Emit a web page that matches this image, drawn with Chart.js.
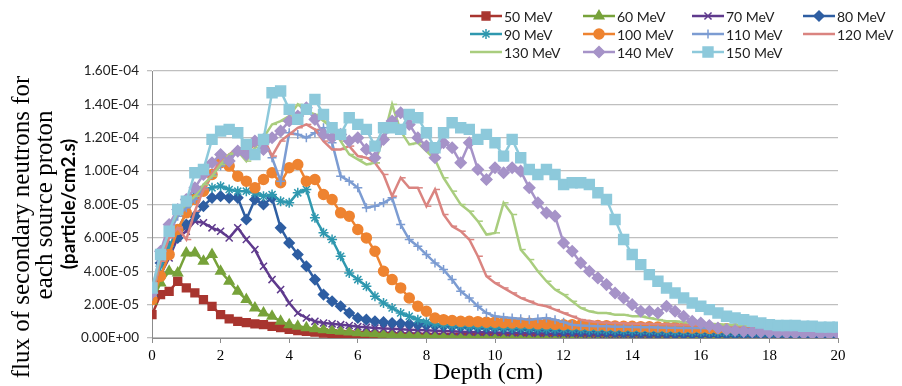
<!DOCTYPE html>
<html>
<head>
<meta charset="utf-8">
<script src="https://cdn.jsdelivr.net/npm/chart.js@4.4.0/dist/chart.umd.min.js"></script>
<style>
  html, body { margin: 0; padding: 0; background: #fff; }
  #wrap { width: 902px; height: 386px; }
</style>
</head>
<body>
<div id="wrap"><canvas id="fluxChart" width="902" height="386"></canvas></div>
<script>
// flux values are in units of 1E-05 particle/cm2.s
const UNIT = 1e-5;

const depth = [
  0, 0.25, 0.5, 0.75, 1, 1.25, 1.5, 1.75, 2, 2.25,
  2.5, 2.75, 3, 3.25, 3.5, 3.75, 4, 4.25, 4.5, 4.75,
  5, 5.25, 5.5, 5.75, 6, 6.25, 6.5, 6.75, 7, 7.25,
  7.5, 7.75, 8, 8.25, 8.5, 8.75, 9, 9.25, 9.5, 9.75,
  10, 10.25, 10.5, 10.75, 11, 11.25, 11.5, 11.75, 12, 12.25,
  12.5, 12.75, 13, 13.25, 13.5, 13.75, 14, 14.25, 14.5, 14.75,
  15, 15.25, 15.5, 15.75, 16, 16.25, 16.5, 16.75, 17, 17.25,
  17.5, 17.75, 18, 18.25, 18.5, 18.75, 19, 19.25, 19.5, 19.75,
  20
];

const seriesNames = ["50 MeV", "60 MeV", "70 MeV", "80 MeV", "90 MeV", "100 MeV",
                     "110 MeV", "120 MeV", "130 MeV", "140 MeV", "150 MeV"];

const mev50 = [
  1.4, 2.6, 2.8, 3.4, 3.0, 2.7, 2.3, 1.9, 1.4, 1.15,
  1.0, 0.92, 0.85, 0.8, 0.7, 0.62, 0.52, 0.45, 0.4, 0.35,
  0.3, 0.26, 0.22, 0.19, 0.16, 0.14, 0.12, 0.1, 0.08, 0.07,
  0.06, 0.05, 0.04, 0.04, 0.03, 0.03, 0.03, 0.02, 0.02, 0.02,
  0.02, 0.02, 0.01, 0.01, 0.01, 0.01, 0.01, 0.01, 0.01, 0.01,
  0.01, 0.01, 0.01, 0.01, 0.01, 0.01, 0.01, 0.01, 0.01, 0.01,
  0.01, 0.01, 0.01, 0.01, 0.01, 0.01, 0.01, 0.01, 0.01, 0.01,
  0.01, 0.01, 0.01, 0.01, 0.01, 0.01, 0.01, 0.01, 0.01, 0.01,
  0.01
];
const mev60 = [
  2.2, 3.3, 4.0, 3.9, 5.1, 5.1, 4.6, 5.0, 4.0, 3.4,
  2.8, 2.3, 1.8, 1.5, 1.3, 1.0, 0.8, 0.7, 0.62, 0.55,
  0.5, 0.45, 0.4, 0.36, 0.32, 0.29, 0.26, 0.23, 0.2, 0.18,
  0.16, 0.14, 0.12, 0.11, 0.1, 0.09, 0.08, 0.07, 0.06, 0.06,
  0.05, 0.05, 0.04, 0.04, 0.04, 0.03, 0.03, 0.03, 0.03, 0.02,
  0.02, 0.02, 0.02, 0.02, 0.02, 0.02, 0.02, 0.02, 0.02, 0.02,
  0.02, 0.02, 0.02, 0.02, 0.02, 0.01, 0.01, 0.01, 0.01, 0.01,
  0.01, 0.01, 0.01, 0.01, 0.01, 0.01, 0.01, 0.01, 0.01, 0.01,
  0.01
];
const mev70 = [
  2.4, 3.8, 4.8, 6.0, 6.4, 7.0, 6.9, 6.6, 6.4, 6.0,
  6.6, 5.9, 5.3, 4.3, 3.5, 2.9, 2.1, 1.5, 1.2, 1.0,
  0.9, 0.85, 0.8, 0.75, 0.68, 0.64, 0.6, 0.57, 0.55, 0.52,
  0.5, 0.48, 0.46, 0.44, 0.42, 0.4, 0.38, 0.36, 0.35, 0.34,
  0.33, 0.32, 0.31, 0.3, 0.29, 0.28, 0.27, 0.26, 0.25, 0.24,
  0.23, 0.22, 0.21, 0.2, 0.2, 0.19, 0.18, 0.18, 0.17, 0.16,
  0.16, 0.15, 0.15, 0.14, 0.14, 0.13, 0.13, 0.12, 0.12, 0.11,
  0.11, 0.1, 0.1, 0.1, 0.09, 0.09, 0.09, 0.08, 0.08, 0.08,
  0.08
];
const mev80 = [
  2.5, 4.5, 5.5, 6.0, 6.8, 7.3, 7.9, 8.4, 8.5, 8.4,
  8.4, 7.1, 8.3, 8.0, 8.4, 6.6, 5.7, 5.0, 4.3, 3.5,
  2.6, 2.2, 1.9, 1.5, 1.2, 1.1, 1.0, 0.95, 0.9, 0.87,
  0.84, 0.8, 0.78, 0.75, 0.72, 0.7, 0.68, 0.66, 0.64, 0.62,
  0.6, 0.58, 0.56, 0.54, 0.52, 0.5, 0.48, 0.46, 0.44, 0.42,
  0.4, 0.39, 0.38, 0.36, 0.35, 0.34, 0.33, 0.32, 0.3, 0.29,
  0.28, 0.27, 0.26, 0.25, 0.24, 0.23, 0.22, 0.21, 0.2, 0.2,
  0.19, 0.18, 0.18, 0.17, 0.16, 0.16, 0.15, 0.15, 0.14, 0.14,
  0.13
];
const mev90 = [
  2.7, 4.3, 5.5, 6.5, 7.5, 8.6, 8.9, 9.0, 9.1, 8.9,
  8.8, 8.8, 8.7, 8.5, 8.6, 8.2, 8.1, 8.7, 8.9, 7.2,
  6.3, 5.9, 4.9, 3.9, 3.5, 3.1, 2.5, 2.1, 1.8, 1.5,
  1.3, 1.1, 0.95, 0.85, 0.8, 0.76, 0.73, 0.7, 0.68, 0.66,
  0.64, 0.62, 0.6, 0.6, 0.58, 0.57, 0.56, 0.55, 0.54, 0.53,
  0.52, 0.5, 0.49, 0.48, 0.47, 0.46, 0.45, 0.44, 0.43, 0.42,
  0.41, 0.4, 0.39, 0.38, 0.37, 0.36, 0.35, 0.34, 0.33, 0.32,
  0.32, 0.31, 0.3, 0.3, 0.29, 0.28, 0.28, 0.27, 0.27, 0.26,
  0.26
];
const mev100 = [
  2.3, 3.7, 5.0, 6.5, 7.5, 8.3, 8.8, 9.8, 10.5, 10.3,
  9.7, 9.4, 9.0, 9.5, 9.9, 9.3, 10.2, 10.4, 9.4, 9.5,
  8.6, 8.3, 7.5, 7.3, 6.5, 6.0, 5.2, 4.0, 3.5, 3.0,
  2.4, 1.9, 1.6, 1.2, 1.1, 1.05, 1.0, 1.0, 0.98, 0.95,
  0.95, 0.92, 0.9, 0.9, 0.88, 0.85, 0.85, 0.82, 0.8, 0.8,
  0.78, 0.76, 0.75, 0.74, 0.72, 0.7, 0.7, 0.68, 0.67, 0.66,
  0.65, 0.64, 0.62, 0.6, 0.6, 0.58, 0.57, 0.56, 0.55, 0.54,
  0.52, 0.5, 0.5, 0.48, 0.48, 0.46, 0.45, 0.44, 0.44, 0.42,
  0.42
];
const mev110 = [
  2.5, 4.6, 6.3, 7.3, 7.8, 8.3, 9.0, 9.8, 10.3, 10.8,
  11.2, 11.5, 11.8, 12.0, 10.8, 9.4, 12.3, 12.2, 12.0, 12.3,
  12.6, 11.7, 9.7, 9.4, 9.0, 7.8, 7.9, 8.1, 8.4, 6.8,
  5.9, 5.5, 5.0, 4.5, 4.1, 3.5, 2.8, 2.4, 1.9, 1.5,
  1.3, 1.25, 1.2, 1.15, 1.1, 1.15, 1.2, 1.1, 0.95, 0.8,
  0.75, 0.72, 0.7, 0.7, 0.68, 0.68, 0.66, 0.65, 0.64, 0.63,
  0.62, 0.62, 0.6, 0.6, 0.6, 0.58, 0.58, 0.57, 0.56, 0.55,
  0.55, 0.54, 0.53, 0.52, 0.52, 0.51, 0.5, 0.5, 0.5, 0.49,
  0.48
];
const mev120 = [
  2.5, 4.6, 6.0, 6.6, 5.9, 7.6, 8.9, 9.9, 10.6, 11.0,
  11.4, 11.1, 11.6, 12.0, 10.9, 11.8, 12.2, 12.6, 12.8, 12.5,
  11.8, 11.3, 11.3, 11.5, 10.9, 10.8, 10.5, 9.8, 8.5, 9.6,
  9.0, 9.0, 7.9, 8.9, 7.4, 6.7, 6.4, 5.9, 4.9, 3.7,
  3.3, 3.0, 2.7, 2.4, 2.2, 2.0, 1.9, 1.7, 1.5, 1.3,
  1.1, 1.0, 0.95, 0.92, 0.9, 0.88, 0.86, 0.85, 0.84, 0.83,
  0.82, 0.8, 0.8, 0.78, 0.78, 0.76, 0.75, 0.74, 0.72, 0.7,
  0.7, 0.68, 0.67, 0.66, 0.65, 0.64, 0.63, 0.62, 0.61, 0.6,
  0.6
];
const mev130 = [
  2.6, 5.0, 6.5, 7.5, 8.0, 8.5, 9.2, 9.7, 10.4, 11.0,
  11.2, 10.6, 11.4, 12.0, 12.8, 13.0, 13.3, 14.0, 13.6, 13.4,
  13.0, 12.6, 11.8, 11.0, 10.7, 10.4, 10.5, 12.0, 14.0, 12.4,
  11.6, 11.7, 11.2, 10.7, 9.6, 8.8, 8.0, 7.6, 7.0, 6.2,
  6.3, 8.1, 7.4, 5.3, 4.7, 4.0, 3.4, 2.9, 2.6, 2.2,
  1.8, 1.6, 1.5, 1.5, 1.4, 1.4, 1.3, 1.3, 1.2, 1.1,
  1.0, 1.0, 0.95, 0.9, 0.88, 0.85, 0.82, 0.8, 0.78, 0.76,
  0.74, 0.72, 0.7, 0.68, 0.66, 0.64, 0.62, 0.6, 0.58, 0.56,
  0.55
];
const mev140 = [
  2.7, 5.2, 6.8, 7.7, 8.3, 9.0, 9.8, 10.5, 11.0, 10.6,
  11.2, 11.0, 11.8, 11.3, 12.0, 12.4, 13.0, 13.3, 13.8, 13.1,
  12.2, 12.0, 12.2, 11.8, 12.0, 11.3, 10.8, 11.9, 13.0, 13.5,
  12.8, 12.0, 11.5, 10.8, 11.7, 11.4, 10.5, 11.7, 10.1, 9.5,
  10.2, 9.9, 10.2, 10.0, 9.0, 8.1, 7.5, 7.3, 5.7, 5.2,
  4.5, 4.0, 3.6, 3.2, 2.7, 2.4, 2.0, 1.6, 1.6, 1.5,
  1.9, 1.6, 1.3, 1.0, 0.9, 0.75, 0.6, 0.5, 0.45, 0.4,
  0.38, 0.36, 0.34, 0.32, 0.3, 0.28, 0.27, 0.26, 0.25, 0.24,
  0.24
];
const mev150 = [
  3.0, 5.0, 6.4, 7.7, 8.2, 9.9, 10.1, 11.9, 12.4, 12.5,
  12.3, 11.6, 11.0, 11.9, 14.7, 14.8, 13.7, 13.1, 13.7, 14.3,
  13.4, 12.6, 12.2, 13.2, 12.8, 12.5, 11.5, 12.6, 12.6, 12.5,
  13.4, 13.2, 12.3, 11.4, 12.3, 12.9, 12.6, 12.5, 11.9, 12.2,
  11.7, 10.9, 11.9, 10.8, 10.1, 9.8, 10.1, 9.8, 9.2, 9.3,
  9.3, 9.2, 8.7, 8.3, 7.1, 5.9, 5.0, 4.4, 3.8, 3.4,
  3.0, 2.7, 2.4, 2.1, 1.9, 1.7, 1.5, 1.3, 1.2, 1.1,
  1.0, 0.9, 0.8, 0.75, 0.75, 0.75, 0.7, 0.7, 0.65, 0.65,
  0.65
];

const seriesValues = [mev50, mev60, mev70, mev80, mev90, mev100,
                      mev110, mev120, mev130, mev140, mev150];

const yTicks = [0, 2, 4, 6, 8, 10, 12, 14, 16];

// look of each series: colour, marker, marker radius
const looks = [
  { color: "#A8352F", marker: "rect", r: 5.5 },
  { color: "#77A23A", marker: "triangle", r: 5.5 },
  { color: "#5F3A8D", marker: "crossRot", r: 5 },
  { color: "#2E5EA2", marker: "rectRot", r: 5 },
  { color: "#2F98AF", marker: "star", r: 5 },
  { color: "#EE8330", marker: "circle", r: 5 },
  { color: "#7C9CD2", marker: "cross", r: 4.5 },
  { color: "#DA8480", marker: "dash", r: 5 },
  { color: "#A9CD7E", marker: "dash", r: 5 },
  { color: "#A693C8", marker: "rectRot", r: 5.5 },
  { color: "#8DC9DB", marker: "rect", r: 7 }
];

function sci(v) {
  if (v === 0) return "0.00E+00";
  const parts = (v * UNIT).toExponential(2).split("e");
  const n = parseInt(parts[1], 10);
  return parts[0] + "E" + (n < 0 ? "-" : "+") + String(Math.abs(n)).padStart(2, "0");
}

const datasets = seriesNames.map((name, i) => ({
  label: name,
  data: depth.map((d, k) => ({ x: d, y: seriesValues[i][k] })),
  borderColor: looks[i].color,
  backgroundColor: looks[i].color,
  pointBackgroundColor: looks[i].color,
  pointBorderColor: looks[i].color,
  pointStyle: looks[i].marker,
  pointRadius: looks[i].r,
  pointBorderWidth: 1.5,
  borderWidth: 2.5,
  tension: 0,
  order: seriesNames.length - i
}));

// y title, x title and the legend are drawn by hand
const extras = {
  id: "extras",
  afterDraw(chart) {
    const ctx = chart.ctx;
    ctx.save();
    ctx.fillStyle = "#000";
    ctx.textAlign = "center";
    ctx.textBaseline = "middle";

    ctx.save();
    ctx.translate(22, 227);
    ctx.rotate(-Math.PI / 2);
    ctx.font = "25px 'Liberation Serif', 'DejaVu Serif', serif";
    ctx.fillText("flux of secondary neutrons for", 0, 0);
    ctx.restore();

    ctx.save();
    ctx.translate(45, 205);
    ctx.rotate(-Math.PI / 2);
    ctx.font = "25px 'Liberation Serif', 'DejaVu Serif', serif";
    ctx.fillText("each source proton", 0, 0);
    ctx.restore();

    ctx.save();
    ctx.translate(69, 204);
    ctx.rotate(-Math.PI / 2);
    ctx.font = "bold 19px Lato, 'Open Sans', sans-serif";
    ctx.fillText("(particle/cm2.s)", 0, 0);
    ctx.restore();

    ctx.font = "24px 'Liberation Serif', 'DejaVu Serif', serif";
    ctx.fillText("Depth (cm)", 488, 373);

    // legend, 4 per row
    const colX = [470, 583, 692, 803];
    const rowY = [16, 34, 52];
    ctx.textAlign = "left";
    ctx.font = "14px Lato, 'Open Sans', sans-serif";
    seriesNames.forEach((name, i) => {
      const x = colX[i % 4];
      const y = rowY[Math.floor(i / 4)];
      const lk = looks[i];
      ctx.strokeStyle = lk.color;
      ctx.fillStyle = lk.color;
      ctx.lineWidth = 2.5;
      ctx.beginPath();
      ctx.moveTo(x, y);
      ctx.lineTo(x + 32, y);
      ctx.stroke();
      if (lk.marker !== "dash" && Chart.helpers && Chart.helpers.drawPoint) {
        ctx.lineWidth = 1.5;
        Chart.helpers.drawPoint(ctx, {
          pointStyle: lk.marker, radius: lk.r, rotation: 0, borderWidth: 1.5
        }, x + 16, y);
      }
      ctx.fillStyle = "#222";
      ctx.fillText(name, x + 34, y + 1);
    });
    ctx.restore();
  }
};

new Chart(document.getElementById("fluxChart").getContext("2d"), {
  type: "line",
  data: { datasets: datasets },
  options: {
    responsive: false,
    animation: false,
    layout: { padding: { top: 71, right: 64, left: 0, bottom: 0 } },
    plugins: {
      legend: { display: false },
      tooltip: { enabled: false }
    },
    scales: {
      x: {
        type: "linear",
        min: 0,
        max: 20,
        afterFit(scale) { scale.height = 48; },
        ticks: {
          stepSize: 2,
          padding: 4,
          color: "#000",
          font: { family: "'Liberation Serif', serif", size: 15 }
        },
        grid: { drawOnChartArea: false, drawTicks: true, tickLength: 5, color: "#8C8C8C" },
        border: { color: "#8C8C8C", width: 1 }
      },
      y: {
        min: 0,
        max: 16,
        afterFit(scale) { scale.width = 152; },
        afterBuildTicks(scale) { scale.ticks = yTicks.map(v => ({ value: v })); },
        ticks: {
          padding: 8,
          color: "#222",
          font: { family: "Lato, 'Open Sans', sans-serif", size: 13.5 },
          callback: v => sci(v)
        },
        grid: { color: "#BFBFBF", lineWidth: 1.3, tickLength: 5 },
        border: { color: "#8C8C8C", width: 1 }
      }
    }
  },
  plugins: [extras]
});
</script>
</body>
</html>
